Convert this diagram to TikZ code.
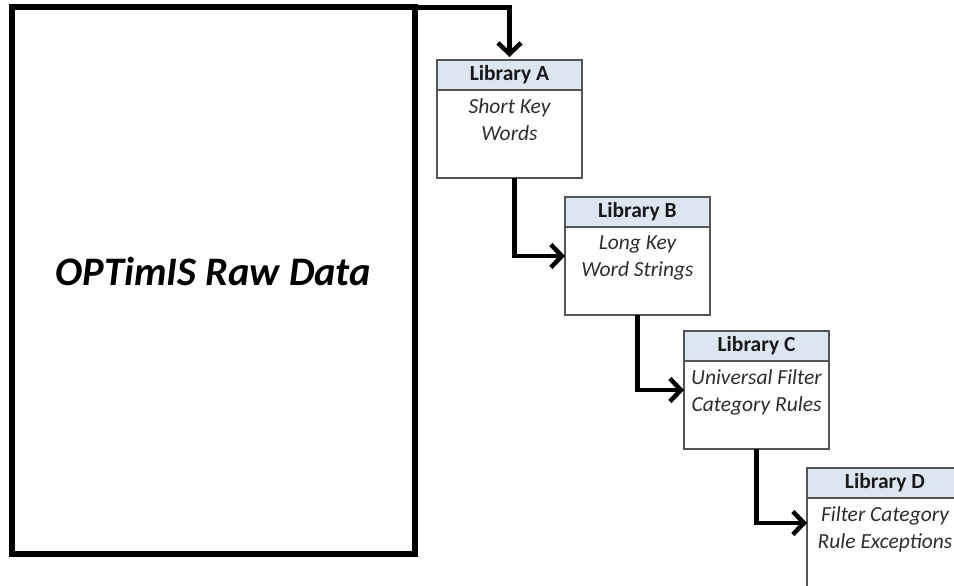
\documentclass[tikz,border=0pt]{standalone}
\usepackage{fontspec}
\setmainfont{Carlito}
\usetikzlibrary{arrows.meta}
\definecolor{hdr}{RGB}{220,230,241}
\definecolor{bord}{RGB}{85,85,85}
\definecolor{bodytxt}{RGB}{45,45,45}
\begin{document}
\begin{tikzpicture}[x=1pt,y=-1pt,
  libframe/.style={draw=bord, line width=1.5pt, minimum height=118pt, anchor=north west, inner sep=0pt, outer sep=0pt},
  libhead/.style={draw=bord, line width=1.5pt, fill=hdr, minimum height=30pt, anchor=north west, inner sep=0pt, outer sep=0pt, font=\fontsize{21.5}{24}\selectfont\bfseries, text=black!90},
  libbody/.style={anchor=north, align=center, font=\fontsize{21.5}{27}\selectfont\itshape, text=bodytxt, inner sep=0pt},
  flow/.style={line width=4.5pt, -{Straight Barb[length=11pt,width=23pt]}},
]
\useasboundingbox (0,0) rectangle (954,586);
\clip (0,0) rectangle (954,586);

\node[draw, line width=6pt, outer sep=0pt, inner sep=0pt, minimum width=402.5pt, minimum height=546.5pt, anchor=north west, font=\fontsize{40.5}{44}\selectfont\bfseries\itshape, text depth=18pt] (raw) at (12,7.5) {OPTimIS Raw Data};

\node[libframe, minimum width=145pt] (A) at (437,60) {};
\node[libhead, minimum width=145pt] (Ah) at (437,60) {Library A};
\node[libbody] (Ab) at ([yshift=-8.5pt]Ah.south) {Short Key\\Words};

\node[libframe, minimum width=145pt] (B) at (565,197) {};
\node[libhead, minimum width=145pt] (Bh) at (565,197) {Library B};
\node[libbody] (Bb) at ([yshift=-8.5pt]Bh.south) {Long Key\\Word Strings};

\node[libframe, minimum width=145pt] (C) at (684,331) {};
\node[libhead, minimum width=145pt] (Ch) at (684,331) {Library C};
\node[libbody] (Cb) at ([yshift=-8.5pt]Ch.south) {Universal Filter\\Category Rules};

\node[libframe, minimum width=156pt, minimum height=130pt] (D) at (807,468) {};
\node[libhead, minimum width=156pt] (Dh) at (807,468) {Library D};
\node[libbody] (Db) at ([yshift=-8.5pt]Dh.south) {Filter Category\\Rule Exceptions};

\draw[flow, shorten >=3pt] (raw.north east) -| (Ah.north);
\draw[flow] ([xshift=5pt]A.south) |- (B.west);
\draw[flow] (B.south) |- (C.west);
\draw[flow] (C.south) |- ([yshift=10pt]D.west);
\end{tikzpicture}
\end{document}
